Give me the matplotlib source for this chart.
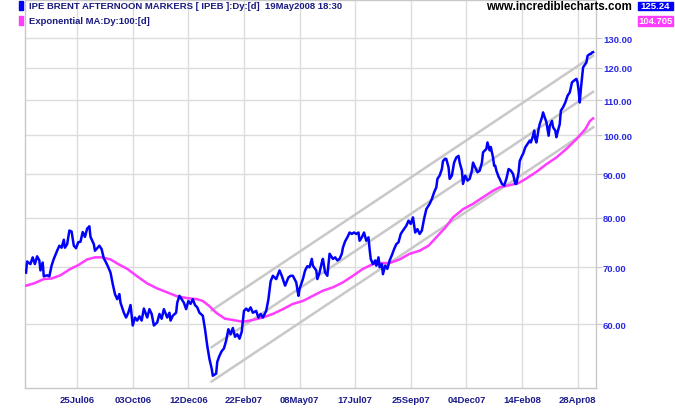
import matplotlib
matplotlib.use("Agg")
import matplotlib.pyplot as plt
from matplotlib.patches import Rectangle

# trading-day index (0 = first bar) and closing prices
price_day = [
    0, 1, 4, 6, 8, 10, 12, 13, 15, 16,
    19, 21, 23, 25, 28, 30, 32, 34, 35, 37,
    39, 41, 43, 45, 47, 49, 51, 53, 55, 57,
    58, 61, 62, 64, 66, 68, 70, 72, 74, 76,
    78, 80, 82, 84, 85, 88, 90, 92, 94, 96,
    98, 100, 102, 104, 106, 109, 111, 113, 115, 118,
    120, 122, 124, 127, 129, 130, 132, 135, 136, 138,
    140, 142, 144, 146, 148, 150, 152, 154, 156, 159,
    161, 163, 165, 167, 168, 171, 172, 174, 176, 178,
    180, 182, 184, 186, 188, 190, 192, 194, 196, 198,
    200, 202, 204, 207, 209, 211, 213, 216, 218, 220,
    222, 225, 228, 230, 233, 236, 238, 240, 243, 245,
    246, 249, 251, 253, 255, 257, 258, 261, 262, 264,
    266, 267, 269, 271, 273, 276, 278, 280, 282, 284,
    285, 287, 289, 291, 293, 295, 297, 299, 300, 302,
    304, 306, 308, 309, 310, 312, 314, 315, 317, 318,
    320, 321, 323, 325, 327, 329, 331, 333, 335, 337,
    339, 342, 344, 346, 348, 350, 352, 354, 356, 358,
    360, 363, 365, 367, 369, 370, 372, 374, 375, 377,
    378, 380, 381, 383, 385, 387, 389, 390, 392, 393,
    395, 397, 399, 401, 402, 404, 406, 408, 410, 411,
    414, 415, 417, 418, 420, 421, 422, 423, 425, 426,
    428, 430, 432, 434, 436, 438, 440, 441, 443, 444,
    446, 447, 449, 451, 453, 454, 456, 457, 458, 459,
    461, 462, 464, 465, 467, 468, 470, 471, 473, 474,
    476, 477, 478, 480, 481, 483, 485, 487, 489, 491,
    493, 495, 496, 497, 498, 499, 501, 503, 504, 505,
    507, 508, 509, 510,
]
price = [
    69.0, 71.1, 70.6, 71.9, 70.6, 72.1, 71.3, 69.4, 70.9, 68.3,
    68.5, 68.3, 70.3, 71.6, 73.2, 74.2, 73.8, 75.4, 73.8, 74.5,
    77.3, 77.1, 74.2, 73.7, 74.9, 75.0, 77.0, 76.0, 77.7, 78.2,
    76.0, 74.5, 73.2, 73.7, 74.2, 73.5, 71.7, 70.9, 70.0, 69.0,
    66.9, 65.1, 64.2, 65.1, 63.6, 61.9, 61.1, 61.9, 63.2, 59.8,
    61.1, 60.6, 61.3, 60.6, 62.6, 61.1, 62.5, 61.7, 59.8, 60.3,
    61.7, 60.9, 62.5, 61.1, 61.9, 60.6, 61.4, 61.9, 63.6, 64.8,
    64.2, 63.6, 62.5, 63.9, 63.4, 64.2, 63.2, 62.8, 61.9, 61.4,
    59.2, 56.6, 54.6, 53.2, 52.2, 52.5, 54.2, 55.1, 55.8, 56.2,
    57.4, 59.2, 58.4, 59.4, 58.0, 58.4, 57.7, 58.8, 62.2, 62.6,
    62.2, 62.8, 61.9, 62.2, 61.1, 61.7, 61.1, 62.2, 64.2, 67.4,
    68.4, 67.8, 69.4, 68.4, 66.6, 68.1, 68.4, 68.4, 67.2, 64.8,
    66.0, 67.8, 69.4, 70.2, 70.0, 71.6, 70.3, 69.4, 67.8, 69.0,
    70.9, 71.6, 69.0, 68.4, 72.6, 71.6, 71.9, 71.3, 71.6, 72.6,
    73.8, 75.1, 75.9, 76.9, 76.6, 76.9, 76.6, 76.9, 75.2, 75.9,
    76.9, 75.2, 75.9, 73.5, 71.6, 70.6, 71.3, 70.3, 71.9, 70.0,
    70.6, 68.7, 70.3, 69.7, 71.3, 72.3, 73.5, 74.5, 74.9, 76.6,
    77.3, 78.3, 79.4, 78.7, 80.1, 76.9, 77.6, 76.6, 77.3, 79.8,
    81.9, 83.1, 84.2, 85.7, 86.9, 88.9, 89.7, 91.3, 93.3, 93.9,
    93.8, 91.7, 88.9, 89.7, 92.9, 94.2, 94.6, 92.9, 90.9, 87.7,
    89.7, 88.5, 88.9, 90.9, 92.9, 91.7, 90.5, 90.9, 92.9, 95.5,
    96.4, 98.1, 96.0, 96.9, 94.2, 92.1, 92.1, 90.9, 89.4, 88.9,
    87.7, 87.3, 88.9, 91.3, 90.9, 90.1, 87.7, 87.7, 90.5, 93.3,
    94.6, 95.1, 96.8, 97.7, 98.6, 98.1, 99.9, 101.3, 99.0, 98.1,
    101.7, 103.1, 105.0, 106.4, 104.5, 103.6, 99.9, 102.6, 104.0, 102.2,
    101.3, 99.5, 100.8, 103.1, 106.9, 107.9, 109.3, 111.3, 112.3, 115.4,
    116.0, 116.5, 115.4, 112.8, 109.3, 113.4, 120.2, 121.3, 121.8, 124.0,
    124.6, 124.6, 125.1, 125.24,
]

# 100-day exponential moving average
ema_day = [0, 7, 16, 23, 31, 40, 47, 55, 62, 68,
           76, 83, 91, 100, 109, 118, 127, 136, 145, 154,
           159, 165, 171, 179, 186, 195, 204, 213, 222, 231,
           240, 249, 258, 267, 276, 285, 294, 303, 312, 318,
           327, 336, 345, 354, 362, 369, 377, 384, 393, 402,
           411, 420, 426, 435, 443, 450, 459, 468, 477, 486,
           495, 503, 507, 510]
ema = [66.6, 67.0, 67.8, 67.9, 68.5, 69.7, 70.4, 71.5, 71.9, 71.9,
       71.5, 70.6, 69.7, 68.3, 67.0, 66.1, 65.4, 64.7, 64.4, 64.2,
       63.9, 63.0, 61.9, 60.9, 60.7, 60.4, 60.7, 61.1, 61.7, 62.5,
       63.4, 63.9, 64.8, 65.7, 66.3, 67.2, 68.4, 69.7, 70.6, 70.8,
       70.8, 71.5, 72.6, 73.2, 74.2, 75.9, 77.9, 80.1, 81.9, 83.1,
       84.6, 86.1, 86.9, 87.4, 87.9, 89.0, 90.6, 92.5, 94.2, 96.4,
       99.0, 101.7, 103.9, 104.705]

# trend channel (straight on the log scale)
chan_day = [167, 510]
chan_upper = [62.3, 124.0]
chan_mid = [56.4, 112.5]
chan_lower = [51.4, 102.2]

tick_day = [46, 96, 146, 196, 246, 296, 346, 396, 446, 496]
tick_labels = ["25Jul06", "03Oct06", "12Dec06", "22Feb07", "08May07",
               "17Jul07", "25Sep07", "04Dec07", "14Feb08", "28Apr08"]
y_ticks = [60, 70, 80, 90, 100, 110, 120, 130]

assert len(price_day) == len(price)
assert len(ema_day) == len(ema)

plt.rcParams['font.family'] = ['Liberation Sans', 'DejaVu Sans']

W, H = 675, 410
fig = plt.figure(figsize=(W / 100, H / 100), dpi=100)
ax = fig.add_axes([25 / W, 21 / H, 571 / W, 388 / H])

grid_c = '#dcdcdc'
ax.set_yscale('log')
ax.set_ylim(50.5, 144.2)
ax.set_xlim(-0.9, 512.6)

for c in (chan_upper, chan_mid, chan_lower):
    ax.plot(chan_day, c, color='#c8c8c8', lw=1.8, zorder=2)
ax.plot(ema_day, ema, color='#ff3cff', lw=1.8, zorder=3)
ax.plot(price_day, price, color='#0000ff', lw=1.8, zorder=4)

ax.set_xticks(tick_day)
ax.set_xticklabels(tick_labels)
ax.yaxis.tick_right()
ax.set_yticks(y_ticks)
ax.set_yticklabels([f"{v:.2f}" for v in y_ticks])
ax.minorticks_off()
ax.grid(True, color=grid_c, lw=1)
ax.set_axisbelow(True)
ax.tick_params(axis='x', length=0, pad=5, labelsize=6.8, labelcolor='#1c1c8c')
ax.tick_params(axis='y', length=4, color='#c8c8c8', pad=1, labelsize=6.8,
               labelcolor='#2a2ae0')
for lbl in ax.get_xticklabels() + ax.get_yticklabels():
    lbl.set_fontweight('bold')
for s in ax.spines.values():
    s.set_color('#c8c8c8')
    s.set_linewidth(1)


def px(x, y):
    return x / W, 1 - y / H


# legend swatches and labels
for y_top, col in [(2, '#0000ff'), (17, '#ff3cff')]:
    fig.patches.append(Rectangle(px(19, y_top + 8.5), 4 / W, 8.5 / H,
                                 transform=fig.transFigure, color=col, zorder=5))
fig.text(*px(29, 6.5), "IPE BRENT AFTERNOON MARKERS [ IPEB ]:Dy:[d]  19May2008 18:30",
         fontsize=6.8, fontweight='bold', color='#1a1a80', va='center', ha='left')
fig.text(*px(29, 21.5), "Exponential MA:Dy:100:[d]",
         fontsize=6.8, fontweight='bold', color='#1a1a80', va='center', ha='left')

# watermark and last values
fig.text(*px(486, 7.5), "www.incrediblecharts.com", fontsize=8.3,
         fontweight='bold', color='black', va='center', ha='left')
for (y0, y1), col, txt in [((2.5, 11), '#0000ff', f"{price[-1]:.2f}"),
                           ((17, 26.5), '#ff3cff', f"{ema[-1]:.3f}")]:
    r = Rectangle(px(638, y1), 35 / W, (y1 - y0) / H, transform=fig.transFigure,
                  color=col)
    fig.patches.append(r)
    fig.text(*px(655.5, (y0 + y1) / 2), txt, fontsize=6.8, fontweight='bold',
             color='white', va='center', ha='center')

fig.savefig("out.png", dpi=100)
